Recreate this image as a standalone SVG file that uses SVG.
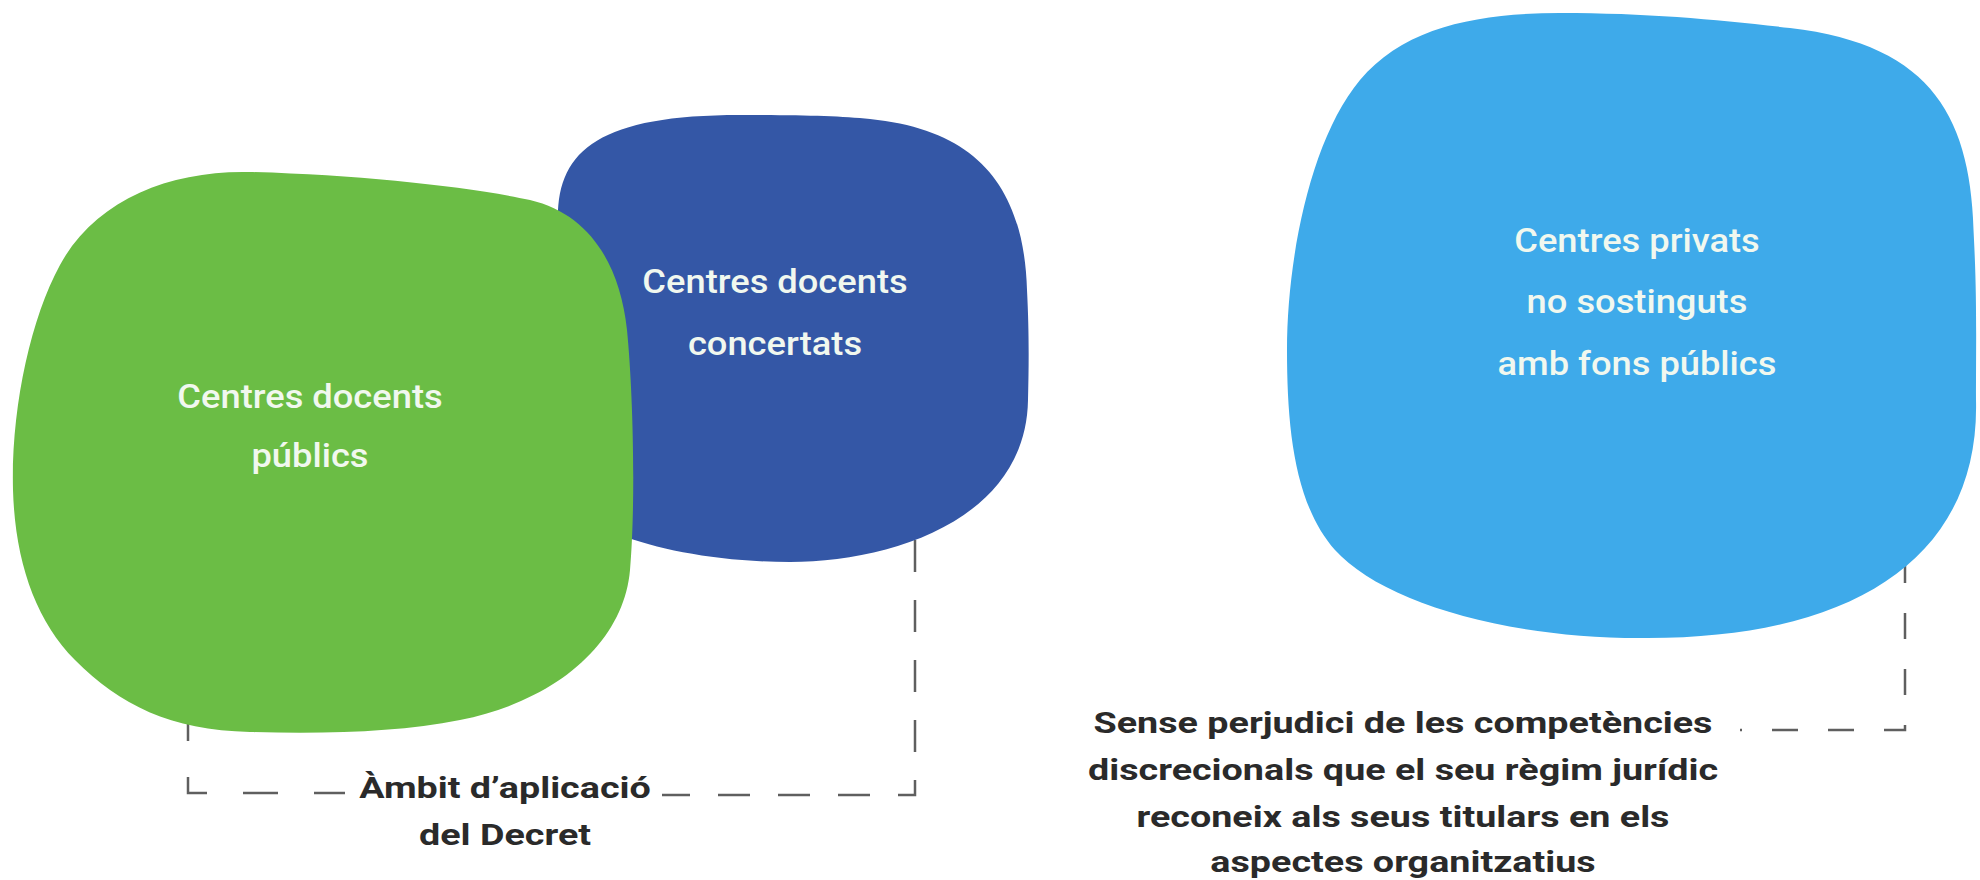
<svg xmlns="http://www.w3.org/2000/svg" width="1980" height="880" viewBox="0 0 1980 880">
<style>
.blobtxt{font-family:Roboto,"Liberation Sans",sans-serif;font-weight:500;font-size:33px;fill:#f1f8ef;text-anchor:middle}
.lbl{font-family:Roboto,"Liberation Sans",sans-serif;font-weight:700;font-size:29px;fill:#2a2a2a;text-anchor:middle}
.dash{fill:none;stroke:#5f5f5f;stroke-width:2.5}
</style>
<rect width="1980" height="880" fill="#ffffff"/>
<g id="connectors">
<path class="dash" d="M188,650 V793 H345" stroke-dasharray="35 36" stroke-dashoffset="15"/>
<path class="dash" d="M915,450 V795 H662" stroke-dasharray="32 28" stroke-dashoffset="30"/>
<path class="dash" d="M1905,540 V730 H1740" stroke-dasharray="26 30" stroke-dashoffset="39"/>
</g>
<g id="node-concertats">
<path fill="#3457a6" d="M740,115 C800,115 840,116 870,119 C980,130 1024,190 1027,290 C1029,330 1029,360 1028,400 C1026,520 890,562 790,562 C720,562 660,550 620,535 C580,520 560,320 558,220 C557,150 600,115 740,115 Z"/>
<text class="blobtxt" transform="translate(775 0) scale(1.1 1)"><tspan x="0" y="293">Centres docents</tspan><tspan x="0" y="355">concertats</tspan></text>
</g>
<g id="node-publics">
<path fill="#6bbd45" d="M250,172 C360,175 470,187 530,200 C590,214 620,265 627,330 C633,390 636,500 630,570 C624,640 560,700 460,720 C400,732 330,734 250,732 C170,730 120,705 75,660 C35,620 15,560 13,490 C11,410 30,320 60,265 C95,200 170,170 250,172 Z"/>
<text class="blobtxt" transform="translate(310 0) scale(1.1 1)"><tspan x="0" y="408">Centres docents</tspan><tspan x="0" y="467">públics</tspan></text>
</g>
<g id="node-privats">
<path fill="#3eaaea" d="M1560,13 C1650,13 1720,20 1790,28 C1935,45 1972,120 1974,240 C1977,300 1976,340 1976,400 C1980,560 1850,640 1640,638 C1500,638 1380,600 1335,550 C1295,505 1287,430 1287,350 C1287,260 1310,140 1360,80 C1405,26 1480,13 1560,13 Z"/>
<text class="blobtxt" transform="translate(1637 0) scale(1.1 1)"><tspan x="0" y="252">Centres privats</tspan><tspan x="0" y="313">no sostinguts</tspan><tspan x="0" y="375">amb fons públics</tspan></text>
</g>
<g id="label-ambit">
<text class="lbl" transform="translate(505 0) scale(1.3 1)"><tspan x="0" y="798">Àmbit d’aplicació</tspan><tspan x="0" y="845">del Decret</tspan></text>
</g>
<g id="label-sense">
<text class="lbl" transform="translate(1403 0) scale(1.3 1)"><tspan x="0" y="733">Sense perjudici de les competències</tspan><tspan x="0" y="780">discrecionals que el seu règim jurídic</tspan><tspan x="0" y="827">reconeix als seus titulars en els</tspan><tspan x="0" y="872">aspectes organitzatius</tspan></text>
</g>
</svg>
